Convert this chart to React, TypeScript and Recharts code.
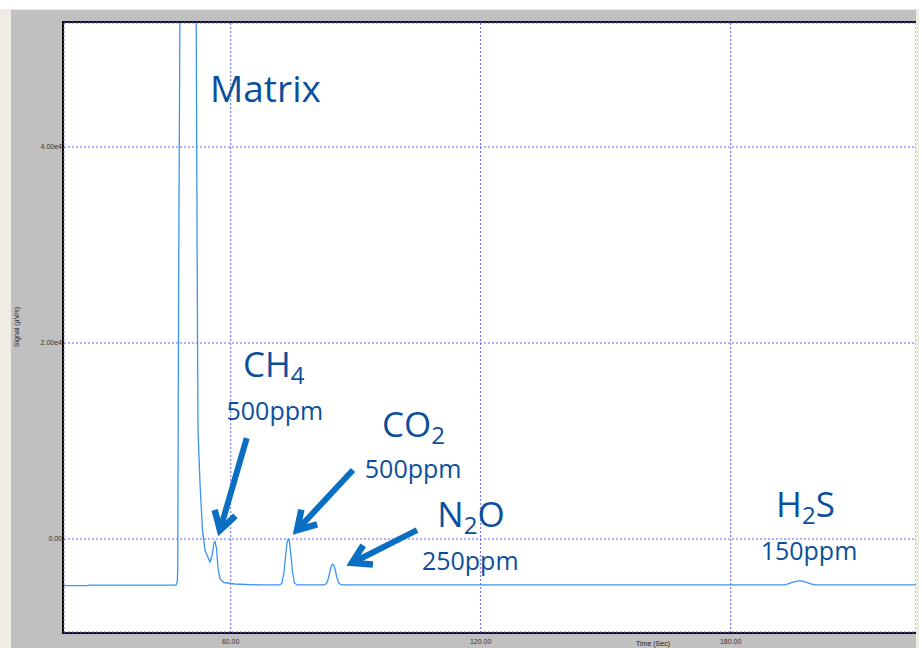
import { CartesianGrid, Line, LineChart, ReferenceDot, ReferenceLine, XAxis, YAxis } from "recharts";

// retention time (s) and detector signal (µV/s)
const times = [
  20, 25.5, 26, 46.9, 47.2, 47.3, 47.5, 47.85, 49.5, 51.7, 52.0, 52.16, 52.64, 53.24, 53.84,
  55.04, 55.52, 56.0, 56.24, 56.6, 56.96, 57.44, 58.4, 61.0, 67.0,
  71.84, 72.32, 72.8, 73.28, 73.59, 73.83, 74.07, 74.38, 74.84, 75.32, 75.92,
  82.4, 83.0, 83.48, 83.96, 84.25, 84.49, 84.75, 85.04, 85.52, 86.0, 86.72,
  192.8, 193.76, 194.96, 196.64, 198.08, 199.28, 200.24, 224.48,
];
const signal = [
  -4760, -4760, -4700, -4700, -4300, -3000, 25000, 56000, 90000, 56000, 24700, 11100, 5700, 900, -1120,
  -2350, -1730, -410, -260, -920, -2960, -4080, -4440, -4590, -4690,
  -4690, -4490, -3370, -1330, -200, -20, -200, -1330, -3370, -4490, -4690,
  -4690, -4540, -3980, -3060, -2670, -2580, -2670, -3060, -3980, -4540, -4690,
  -4690, -4590, -4390, -4250, -4390, -4590, -4690, -4690,
];

const xTicks = [60, 120, 180];
const yTicks = [0, 20000, 40000];

// annotation text, anchored at (time, signal) = left end of the baseline
const labels = [
  { t: 55.04, v: 44600, size: 37, parts: [{ s: "Matrix" }] },
  { t: 62.96, v: 16500, size: 35, parts: [{ s: "CH" }, { s: "4", sub: true }] },
  { t: 59.0, v: 12100, size: 25, parts: [{ s: "500ppm" }] },
  { t: 96.3, v: 10400, size: 35, parts: [{ s: "CO" }, { s: "2", sub: true }] },
  { t: 92.2, v: 6200, size: 25, parts: [{ s: "500ppm" }] },
  { t: 109.6, v: 1200, size: 35, parts: [{ s: "N" }, { s: "2", sub: true }, { s: "O" }] },
  { t: 105.9, v: -3150, size: 25, parts: [{ s: "250ppm" }] },
  { t: 190.9, v: 2250, size: 35, parts: [{ s: "H" }, { s: "2", sub: true }, { s: "S" }] },
  { t: 187.2, v: -2150, size: 25, parts: [{ s: "150ppm" }] },
];

// arrows: tail (t1, v1) -> head (t2, v2)
const arrows = [
  { t1: 63.85, v1: 10300, t2: 57.44, v2: 900 },
  { t1: 89.36, v1: 7040, t2: 75.92, v2: 900 },
  { t1: 104.72, v1: 900, t2: 89.12, v2: -2450 },
];

const data = times.map((t, i) => ({ t, v: signal[i] }));

const textColor = "#0b4f9c";
const arrowColor = "#0a6fc2";
const tickFont = "'Liberation Sans', Arial, sans-serif";

function fmtY(v: number) {
  return v === 0 ? "0.00" : (v / 10000).toFixed(2) + "e4";
}

function XTick(props: any) {
  const { x, y, payload } = props;
  return (
    <text x={x} y={y + 11.5} textAnchor="middle" fontSize={7} fontFamily={tickFont} fill="#333">
      {Number(payload.value).toFixed(2)}
    </text>
  );
}

function YTick(props: any) {
  const { x, y, payload } = props;
  return (
    <text x={x - 2} y={y + 2.5} textAnchor="end" fontSize={7} fontFamily={tickFont} fill="#333">
      {fmtY(payload.value)}
    </text>
  );
}

function arrowShape(props: any) {
  const { x1, y1, x2, y2 } = props;
  const ang = Math.atan2(y1 - y2, x1 - x2);
  const len = 21;
  const spread = (31 * Math.PI) / 180;
  const ax = x2 + len * Math.cos(ang + spread);
  const ay = y2 + len * Math.sin(ang + spread);
  const bx = x2 + len * Math.cos(ang - spread);
  const by = y2 + len * Math.sin(ang - spread);
  return (
    <g>
      <line x1={x1} y1={y1} x2={x2} y2={y2} stroke={arrowColor} strokeWidth={6} />
      <polyline
        points={`${ax},${ay} ${x2},${y2} ${bx},${by}`}
        fill="none"
        stroke={arrowColor}
        strokeWidth={6.5}
        strokeLinejoin="miter"
      />
    </g>
  );
}

function labelShape(l: (typeof labels)[number]) {
  return (props: any) => {
    const { cx, cy } = props;
    let shifted = false;
    return (
      <text x={cx} y={cy} fill={textColor} fontSize={l.size} fontFamily="'Open Sans', sans-serif">
        {l.parts.map((p: any, i: number) => {
          let dy = 0;
          if (p.sub && !shifted) {
            dy = 7;
            shifted = true;
          } else if (!p.sub && shifted) {
            dy = -7;
            shifted = false;
          }
          return (
            <tspan key={i} dy={dy} fontSize={p.sub ? 24 : l.size}>
              {p.s}
            </tspan>
          );
        })}
      </text>
    );
  };
}

export default function App() {
  return (
    <div style={{ position: "absolute", left: 0, top: 0, width: 922, height: 648, background: "#ffffff", overflow: "hidden" }}>
      <div style={{ position: "absolute", left: 0, top: 9, width: 919, height: 639, background: "#efede3" }} />
      <div style={{ position: "absolute", left: 11, top: 10, width: 905, height: 638, background: "#c0c0c0" }} />
      <div
        style={{
          position: "absolute",
          left: 62,
          top: 21,
          width: 854,
          height: 613,
          boxSizing: "border-box",
          background: "#ffffff",
          borderLeft: "2px solid #000",
          borderTop: "2px solid #111",
          borderBottom: "2px solid #111",
        }}
      />
      <svg style={{ position: "absolute", left: 0, top: 0 }} width={922} height={648}>
        <text
          transform="translate(19,327) rotate(-90)"
          textAnchor="middle"
          fontSize={7}
          fontFamily={tickFont}
          fill="#222"
        >
          Signal (µV/s)
        </text>
        <text x={636} y={645.5} fontSize={7} fontFamily={tickFont} fill="#222">
          Time (Sec)
        </text>
      </svg>
      <div style={{ position: "absolute", left: 0, top: 0 }}>
        <LineChart width={916} height={648} data={data} margin={{ top: 23, right: 0, bottom: 0, left: 0 }}>
          <CartesianGrid stroke="#6262ff" strokeDasharray="2 2" />
          <XAxis
            type="number"
            dataKey="t"
            domain={[20, 224.48]}
            ticks={xTicks}
            allowDataOverflow
            height={16}
            axisLine={false}
            tickLine={false}
            tickSize={0}
            tickMargin={0}
            tick={<XTick />}
          />
          <YAxis
            type="number"
            dataKey="v"
            domain={[-9490, 52653]}
            ticks={yTicks}
            allowDataOverflow
            width={64}
            axisLine={false}
            tickLine={false}
            tickSize={0}
            tickMargin={0}
            tick={<YTick />}
          />
          <Line
            type="linear"
            dataKey="v"
            stroke="#3d94f0"
            strokeWidth={1.3}
            dot={false}
            activeDot={false}
            isAnimationActive={false}
          />
          {arrows.map((a, i) => (
            <ReferenceLine
              key={"a" + i}
              segment={[
                { x: a.t1, y: a.v1 },
                { x: a.t2, y: a.v2 },
              ]}
              ifOverflow="visible"
              shape={arrowShape}
            />
          ))}
          {labels.map((l, i) => (
            <ReferenceDot key={"l" + i} x={l.t} y={l.v} r={0} ifOverflow="visible" shape={labelShape(l)} />
          ))}
        </LineChart>
      </div>
    </div>
  );
}
